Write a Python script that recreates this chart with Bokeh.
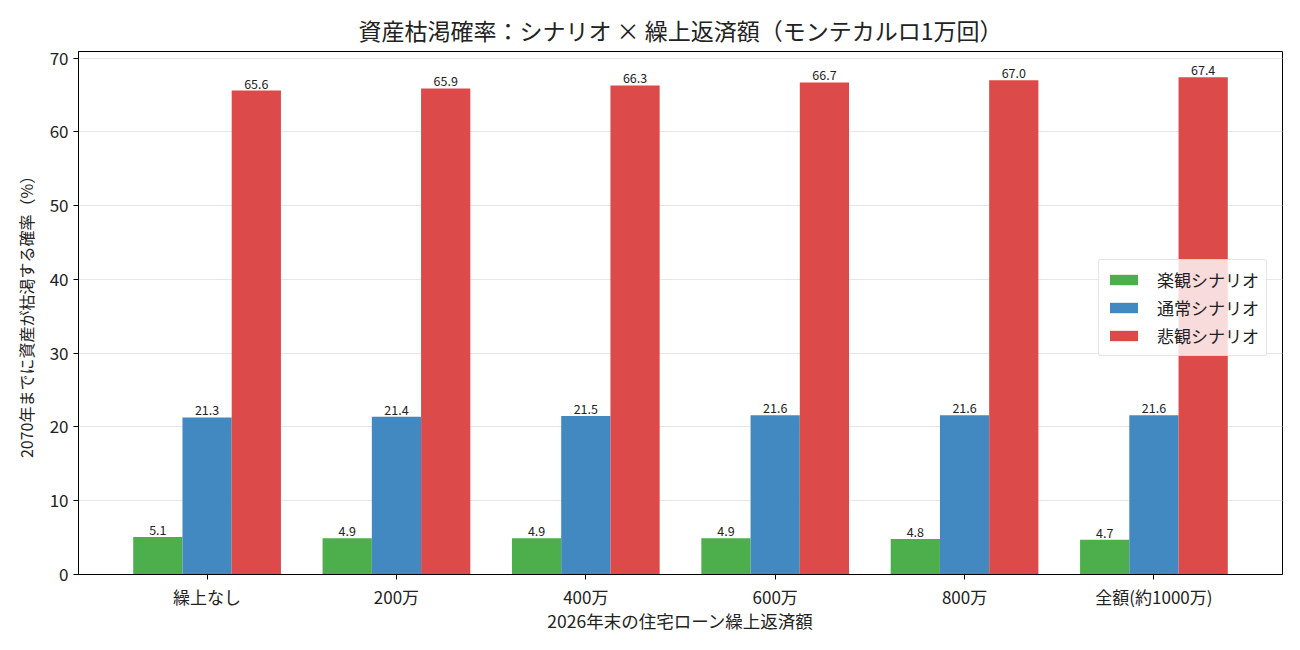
from bokeh.plotting import figure
from bokeh.models import ColumnDataSource, Range1d, FixedTicker, Legend, LegendItem
from bokeh.transform import dodge
from bokeh.embed import file_html
from bokeh.resources import INLINE
from bokeh.core.properties import value

categories = ["繰上なし", "200万", "400万", "600万", "800万", "全額(約1000万)"]
optimistic = [5.1, 4.9, 4.9, 4.9, 4.8, 4.7]
normal = [21.3, 21.4, 21.5, 21.6, 21.6, 21.6]
pessimistic = [65.6, 65.9, 66.3, 66.7, 67.0, 67.4]
series_names = ["楽観シナリオ", "通常シナリオ", "悲観シナリオ"]
colors = ["#4caf4c", "#4189c0", "#dd4a4a"]
y_ticks = [0, 10, 20, 30, 40, 50, 60, 70]

FONT = "Noto Sans CJK JP"
idx = list(range(len(categories)))
src = ColumnDataSource(dict(
    x=idx,
    opt=optimistic, nor=normal, pes=pessimistic,
    opt_l=[f"{v:.1f}" for v in optimistic],
    nor_l=[f"{v:.1f}" for v in normal],
    pes_l=[f"{v:.1f}" for v in pessimistic],
))

p = figure(width=1292, height=642, output_backend="svg", toolbar_location=None,
           x_range=Range1d(-0.679, 5.679), y_range=Range1d(0, 70.9),
           min_border_left=78, min_border_right=10, min_border_top=51, min_border_bottom=68)

p.title.text = "資産枯渇確率：シナリオ × 繰上返済額（モンテカルロ1万回）"
p.title.align = "center"
p.title.text_font = FONT
p.title.text_font_size = "23px"
p.title.text_font_style = "normal"
p.title.text_color = "#222222"
p.title.standoff = 9

w = 0.26
renderers = []
for key, off, col in zip(["opt", "nor", "pes"], [-w, 0, w], colors):
    r = p.vbar(x=dodge("x", off), top=key, width=w, bottom=0, source=src,
               fill_color=col, line_color=None)
    renderers.append(r)
    p.text(x=dodge("x", off), y=key, text=key + "_l", source=src,
           text_align="center", text_baseline="bottom", y_offset=-2,
           text_font=value(FONT), text_font_size="12.5px", text_color="#222222")

legend = Legend(items=[LegendItem(label=n, renderers=[r]) for n, r in zip(series_names, renderers)],
                location=(1020, 218))
legend.label_text_font = FONT
legend.label_text_font_size = "17px"
legend.label_text_color = "#222222"
legend.glyph_width = 35
legend.glyph_height = 13
legend.label_standoff = 16
legend.label_height = 20
legend.spacing = 3
legend.padding = 7
legend.margin = 0
legend.border_line_color = "#cccccc"
legend.border_line_width = 1
legend.border_radius = 3
legend.background_fill_alpha = 0.8
p.add_layout(legend, "center")

p.xaxis.ticker = FixedTicker(ticks=idx)
p.xaxis.major_label_overrides = {i: c for i, c in zip(idx, categories)}
p.yaxis.ticker = FixedTicker(ticks=y_ticks)
p.xaxis.axis_label = "2026年末の住宅ローン繰上返済額"
p.yaxis.axis_label = "2070年までに資産が枯渇する確率（%）"
for ax in (p.xaxis, p.yaxis):
    ax.axis_label_text_font = FONT
    ax.axis_label_text_font_style = "normal"
    ax.axis_label_text_color = "#222222"
    ax.major_label_text_font = FONT
    ax.major_label_text_font_size = "17px"
    ax.major_label_text_color = "#222222"
    ax.axis_line_color = "black"
    ax.major_tick_line_color = "black"
    ax.major_tick_out = 5
    ax.major_tick_in = 0
    ax.minor_tick_line_color = None
p.xaxis.axis_label_text_font_size = "17.5px"
p.yaxis.axis_label_text_font_size = "16px"
p.xaxis.major_label_standoff = 4
p.xaxis.axis_label_standoff = -4
p.yaxis.major_label_standoff = 5
p.yaxis.axis_label_standoff = 9

p.xgrid.grid_line_color = None
p.ygrid.grid_line_color = "#e6e6e6"
p.ygrid.grid_line_width = 1
p.outline_line_color = "black"
p.outline_line_alpha = 1
p.outline_line_width = 1
p.background_fill_color = "white"

open("out.html", "w").write(file_html(p, INLINE))
